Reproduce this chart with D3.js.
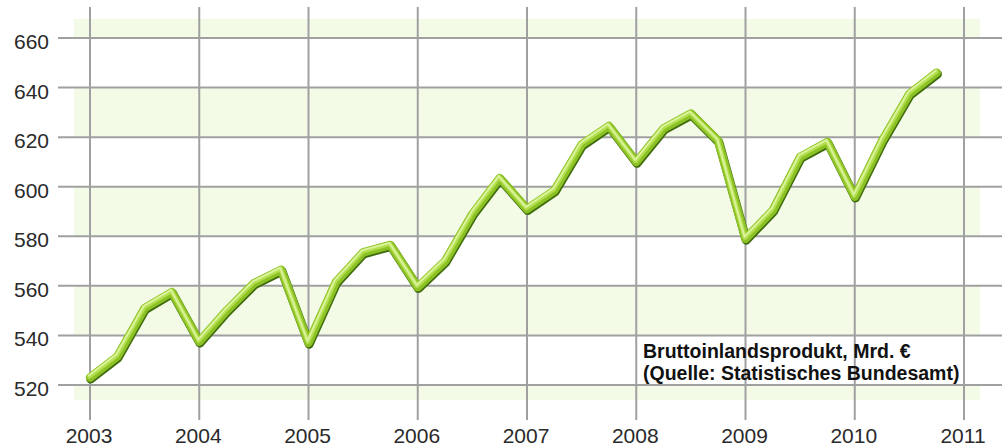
<!DOCTYPE html>
<html>
<head>
<meta charset="utf-8">
<script src="https://cdn.jsdelivr.net/npm/d3@7"></script>
<style>
  body { margin: 0; background: #fff; }
  svg { display: block; font-family: "Liberation Sans", Arial, sans-serif; }
</style>
</head>
<body>
<div id="chart"></div>
<script>
// data: quarterly GDP, Mrd. €
const years = [2003, 2004, 2005, 2006, 2007, 2008, 2009, 2010];
const quarters = ["Q1", "Q2", "Q3", "Q4"];
const gdp = [
  523, 531.5, 551, 557.5,
  537.5, 550, 561, 566.5,
  537, 561.5, 573.5, 576.5,
  559.5, 570, 589, 603.5,
  591, 598.5, 617, 624.5,
  610, 623.5, 629.5, 618.5,
  579, 590.5, 612, 618,
  596, 618.5, 637.5, 646
];
const yTicks = [520, 540, 560, 580, 600, 620, 640, 660];
const xTicks = [2003, 2004, 2005, 2006, 2007, 2008, 2009, 2010, 2011];
const legendLines = ["Bruttoinlandsprodukt, Mrd. €", "(Quelle: Statistisches Bundesamt)"];

const width = 1002, height = 446;

// build points (year + quarter offset)
const points = [];
years.forEach((yr, i) => {
  quarters.forEach((q, j) => {
    points.push({ t: yr + j / 4, v: gdp[i * 4 + j] });
  });
});

const x = d3.scaleLinear().domain([2003, 2011]).range([90, 964]);
const y = d3.scaleLinear().domain([520, 660]).range([385, 38]);

const svg = d3.select("#chart").append("svg")
  .attr("width", width)
  .attr("height", height);

// alternating background bands
const bandLo = 514, bandHi = 667.7;
const bands = [[bandLo, 520], [540, 560], [580, 600], [620, 640], [660, bandHi]];
svg.append("g").selectAll("rect")
  .data(bands)
  .join("rect")
  .attr("x", 74)
  .attr("width", 980 - 74)
  .attr("y", d => y(d[1]))
  .attr("height", d => y(d[0]) - y(d[1]))
  .attr("fill", "#f3fbe6");

// grid
const grid = svg.append("g").attr("stroke", "#a0a0a0").attr("stroke-width", 2);
grid.selectAll(".h")
  .data(yTicks)
  .join("line")
  .attr("x1", 58).attr("x2", width)
  .attr("y1", d => y(d)).attr("y2", d => y(d));
grid.selectAll(".v")
  .data(xTicks)
  .join("line")
  .attr("x1", d => x(d)).attr("x2", d => x(d))
  .attr("y1", 7).attr("y2", 420);

// tick labels
svg.append("g").selectAll("text")
  .data(yTicks)
  .join("text")
  .attr("x", 49)
  .attr("y", d => y(d) + 11)
  .attr("text-anchor", "end")
  .attr("font-size", 21)
  .attr("fill", "#2a2a2a")
  .text(d => d);

svg.append("g").selectAll("text")
  .data(xTicks)
  .join("text")
  .attr("x", d => x(d) - 1)
  .attr("y", 443)
  .attr("text-anchor", "middle")
  .attr("font-size", 21)
  .attr("fill", "#2a2a2a")
  .text(d => d);

// the line, drawn as a shaded tube
const line = d3.line().x(d => x(d.t)).y(d => y(d.v));
const layers = [
  { c: "#3f6c0d", w: 9, dx: 0.7, dy: 1.4 },
  { c: "#8dc226", w: 8.5, dx: 0, dy: 0 },
  { c: "#b3df4e", w: 4.5, dx: -0.6, dy: -1.1 },
  { c: "#daf29c", w: 2, dx: -1.0, dy: -2.0 }
];
svg.append("g").selectAll("path")
  .data(layers)
  .join("path")
  .attr("d", line(points))
  .attr("transform", d => `translate(${d.dx},${d.dy})`)
  .attr("fill", "none")
  .attr("stroke", d => d.c)
  .attr("stroke-width", d => d.w)
  .attr("stroke-linejoin", "round")
  .attr("stroke-linecap", "round");

// legend
svg.append("g").selectAll("text")
  .data(legendLines)
  .join("text")
  .attr("x", 643)
  .attr("y", (d, i) => 358 + i * 22)
  .attr("font-size", 19.5)
  .attr("font-weight", "bold")
  .attr("fill", "#111")
  .text(d => d);
</script>
</body>
</html>
